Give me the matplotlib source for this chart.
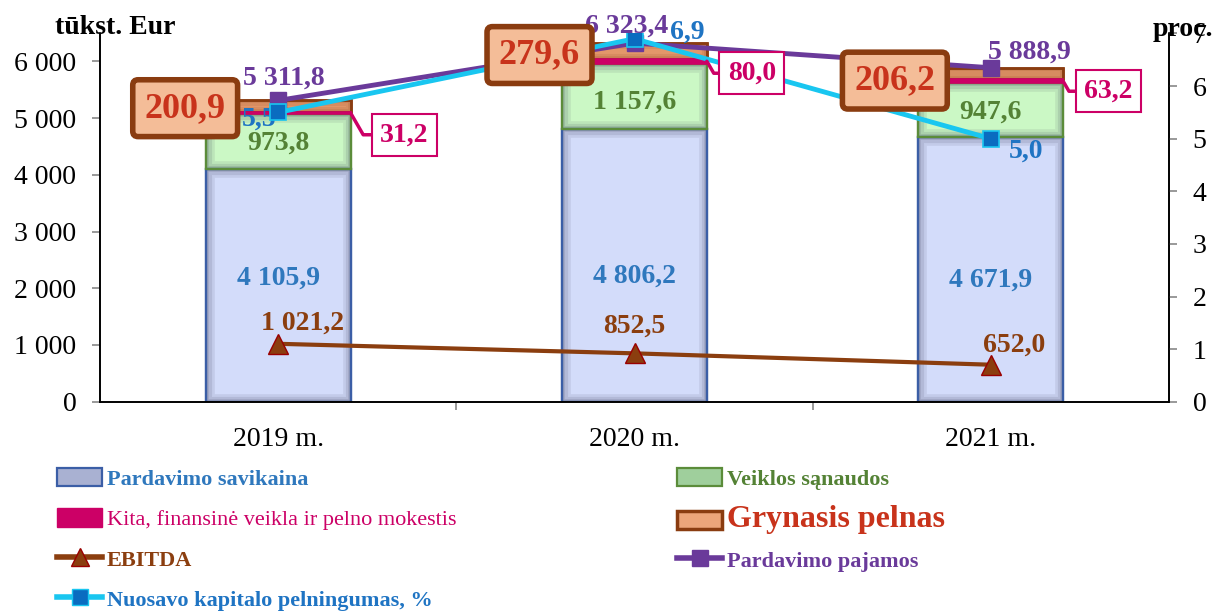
import matplotlib
matplotlib.use('Agg')
import matplotlib.pyplot as plt
from matplotlib.patches import Rectangle, Patch
from matplotlib.lines import Line2D
import numpy as np

plt.rcParams['font.family'] = ['Liberation Serif', 'DejaVu Serif']

# ---------------- data ----------------
categories = ['2019 m.', '2020 m.', '2021 m.']
savikaina = [4105.9, 4806.2, 4671.9]      # Pardavimo savikaina
veiklos = [973.8, 1157.6, 947.6]          # Veiklos sąnaudos
kita = [31.2, 80.0, 63.2]                 # Kita, finansinė veikla ir pelno mokestis
grynasis = [200.9, 279.6, 206.2]          # Grynasis pelnas
ebitda = [1021.2, 852.5, 652.0]           # EBITDA
pajamos = [5311.8, 6323.4, 5888.9]        # Pardavimo pajamos
nuosavo = [5.5, 6.9, 5.0]                 # Nuosavo kapitalo pelningumas, %
left_ticks = [0, 1000, 2000, 3000, 4000, 5000, 6000]
right_ticks = [0, 1, 2, 3, 4, 5, 6, 7]

# ---------------- styles ----------------
C_SAV_FACE, C_SAV_EDGE, C_SAV_TXT = '#d3dcfa', '#3b5ea6', '#2f78bd'
C_VEI_FACE, C_VEI_EDGE, C_VEI_TXT = '#cbf8c5', '#5b8c3a', '#548235'
C_KITA = '#cc0066'
C_GRY_FACE, C_GRY_EDGE, C_GRY_TXT = '#eea173', '#8a3c10', '#c8331b'
C_EBIT = '#8b3e0f'
C_PAJ = '#6a3a9a'
C_NUO_LINE, C_NUO_MARK, C_NUO_TXT = '#19c6f0', '#0a6cc0', '#1f74c3'

# label offsets (pixels) -- layout only
off_sav = [(0, 7), (0, -11), (0, -11)]
off_vei = [(0, -2), (0, -6), (0, -2)]
off_paj = [(6, 22), (-8, 17), (39, 16)]
off_nuo = [(-19, -7), (53, 7), (35, -12)]
off_ebit = [(24, 21), (0, 27), (23, 20)]
off_gry = [(-93, -2), (-95, -4), (-96, -7)]
off_kita = [(54, -22), (45, -12), (45, -10)]

W, H = 1229, 611
fig = plt.figure(figsize=(W / 100, H / 100), dpi=100)
x0, x1, yb, yt = 100, 1169, 401.7, 33.5
ax = fig.add_axes([x0 / W, 1 - yb / H, (x1 - x0) / W, (yb - yt) / H])
ax2 = ax.twinx()

x = np.arange(len(categories))
bw = 0.406


def fmt(v):
    return f"{v:,.1f}".replace(',', ' ').replace('.', ',')


def shade(container, color='#2a2a48'):
    for r in container:
        for lw, a in [(12, 0.09), (8, 0.11), (4, 0.15)]:
            s = Rectangle(r.get_xy(), r.get_width(), r.get_height(), fill=False,
                          ec=color, lw=lw, alpha=a, zorder=r.get_zorder() + 0.1)
            ax.add_patch(s)
            s.set_clip_path(r)


b1 = ax.bar(x, savikaina, bw, color=C_SAV_FACE, edgecolor=C_SAV_EDGE, lw=1.6, zorder=2)
base2 = np.array(savikaina)
b2 = ax.bar(x, veiklos, bw, bottom=base2, color=C_VEI_FACE, edgecolor=C_VEI_EDGE, lw=1.6, zorder=2)
base3 = base2 + np.array(veiklos)
b3 = ax.bar(x, kita, bw, bottom=base3, color=C_KITA, edgecolor=C_KITA, lw=1.2, zorder=2.3)
base4 = base3 + np.array(kita)
b4 = ax.bar(x, grynasis, bw, bottom=base4, color=C_GRY_FACE, edgecolor=C_GRY_EDGE, lw=1.8, zorder=2)
shade(b1)
shade(b2)
shade(b4, '#7a3a10')
# redraw edges on top of shading
for cont, ec, lw in [(b1, C_SAV_EDGE, 1.6), (b2, C_VEI_EDGE, 1.6), (b4, C_GRY_EDGE, 1.8)]:
    for r in cont:
        ax.add_patch(Rectangle(r.get_xy(), r.get_width(), r.get_height(), fill=False, ec=ec, lw=lw,
                               zorder=2.2))

# lines
ax.plot(x, ebitda, color=C_EBIT, lw=3, marker='^', ms=15, mfc=C_EBIT, mec='#9a0000', mew=1, zorder=4)
ax.plot(x, pajamos, color=C_PAJ, lw=3.5, marker='s', ms=11, mfc=C_PAJ, mec=C_PAJ, zorder=4)
ax2.plot(x, nuosavo, color=C_NUO_LINE, lw=3.5, marker='s', ms=12, mfc=C_NUO_MARK, mec=C_NUO_LINE, mew=1.2, zorder=3)

# axes
ax.set_xlim(-0.5, 2.5)
ax.set_ylim(0, 6493)
ax2.set_ylim(0, 7)
ax.set_yticks(left_ticks)
ax.set_yticklabels([f"{v:,}".replace(',', ' ') for v in left_ticks])
ax2.set_yticks(right_ticks)
ax.set_xticks(x)
ax.set_xticklabels(categories)
ax.set_xticks([0.5, 1.5], minor=True)
ax.tick_params(axis='x', which='major', length=0, pad=18, labelsize=20)
ax.tick_params(axis='x', which='minor', length=6, color='#888888', width=1.2)
ax.tick_params(axis='y', length=6, color='#888888', width=1.2, pad=11, labelsize=20)
ax2.tick_params(axis='y', length=6, color='#888888', width=1.2, pad=11, labelsize=20)
for a in (ax, ax2):
    a.spines['top'].set_visible(False)
    for s in ('left', 'right', 'bottom'):
        a.spines[s].set_linewidth(1.2)
        a.spines[s].set_color('black')

bold = dict(fontweight='bold', fontsize=20)

# bar labels
for i in range(3):
    ax.annotate(fmt(savikaina[i]), xy=(x[i], savikaina[i] / 2), xytext=off_sav[i], textcoords='offset pixels',
                ha='center', va='center', color=C_SAV_TXT, zorder=5, **bold)
    ax.annotate(fmt(veiklos[i]), xy=(x[i], base2[i] + veiklos[i] / 2), xytext=off_vei[i], textcoords='offset pixels',
                ha='center', va='center', color=C_VEI_TXT, zorder=5, **bold)
    ax.annotate(fmt(pajamos[i]), xy=(x[i], pajamos[i]), xytext=off_paj[i], textcoords='offset pixels',
                ha='center', va='center', color=C_PAJ, zorder=3, **bold)
    ax.annotate(fmt(ebitda[i]), xy=(x[i], ebitda[i]), xytext=off_ebit[i], textcoords='offset pixels',
                ha='center', va='center', color=C_EBIT, zorder=5, **bold)
    ax2.annotate(fmt(nuosavo[i]), xy=(x[i], nuosavo[i]), xytext=off_nuo[i], textcoords='offset pixels',
                 ha='center', va='center', color=C_NUO_TXT, zorder=1, **bold)
    ax2.annotate(fmt(kita[i]), xy=(x[i] + bw / 2, base3[i] + kita[i] / 2), xycoords=ax.transData,
                 xytext=off_kita[i], textcoords='offset pixels', ha='center', va='center', color=C_KITA,
                 zorder=6, fontweight='bold', fontsize=20,
                 bbox=dict(boxstyle='square,pad=0.3', fc='white', ec=C_KITA, lw=1.5),
                 arrowprops=dict(arrowstyle='-', color=C_KITA, lw=2.5, shrinkA=0, shrinkB=0,
                                 connectionstyle='angle,angleA=0,angleB=120,rad=0'))
    ax2.annotate(fmt(grynasis[i]), xy=(x[i], base4[i] + grynasis[i] / 2), xycoords=ax.transData,
                 xytext=off_gry[i], textcoords='offset pixels', ha='center', va='center', color=C_GRY_TXT,
                 zorder=7, fontweight='bold', fontsize=26,
                 bbox=dict(boxstyle='round,pad=0.33,rounding_size=0.15', fc='#f4bd98', ec=C_GRY_EDGE, lw=4))

fig.text(55 / W, 1 - 27 / H, 'tūkst. Eur', ha='left', va='center', **bold)
fig.text(1153 / W, 1 - 30 / H, 'proc.', ha='left', va='center', **bold)

# legend
h_sav = Patch(fc='#a9b1d2', ec=C_SAV_EDGE, lw=1.6)
h_kita = Patch(fc=C_KITA, ec=C_KITA)
h_ebit = Line2D([], [], color=C_EBIT, lw=4, marker='^', ms=13, mfc=C_EBIT, mec='#9a0000')
h_nuo = Line2D([], [], color=C_NUO_LINE, lw=4, marker='s', ms=11, mfc=C_NUO_MARK, mec=C_NUO_LINE)
h_vei = Patch(fc='#9fcf9c', ec=C_VEI_EDGE, lw=1.6)
h_gry = Patch(fc='#eca57a', ec=C_GRY_EDGE, lw=2.5)
h_paj = Line2D([], [], color=C_PAJ, lw=4, marker='s', ms=11, mfc=C_PAJ, mec=C_PAJ)

common = dict(frameon=False, loc='upper left', borderpad=0, borderaxespad=0, handlelength=2.03,
              handleheight=0.9, handletextpad=0.2, prop={'size': 16})
leg1 = fig.legend([h_sav, h_kita, h_ebit, h_nuo],
                  ['Pardavimo savikaina', 'Kita, finansinė veikla ir pelno mokestis', 'EBITDA',
                   'Nuosavo kapitalo pelningumas, %'],
                  bbox_to_anchor=(57 / W, 1 - 468 / H), labelspacing=0.83, **common)
cols1 = [(C_SAV_TXT, 'bold'), (C_KITA, 'normal'), (C_EBIT, 'bold'), (C_NUO_TXT, 'bold')]
for t, (c, w) in zip(leg1.get_texts(), cols1):
    t.set_color(c)
    t.set_fontweight(w)
leg2 = fig.legend([h_vei, h_gry, h_paj], ['Veiklos sąnaudos', 'Grynasis pelnas', 'Pardavimo pajamos'],
                  bbox_to_anchor=(677 / W, 1 - 468 / H), labelspacing=0.7, **common)
cols2 = [(C_VEI_TXT, 16), (C_GRY_TXT, 23), (C_PAJ, 16)]
for t, (c, s) in zip(leg2.get_texts(), cols2):
    t.set_color(c)
    t.set_fontweight('bold')
    t.set_fontsize(s)

fig.savefig('out.png', dpi=100)
